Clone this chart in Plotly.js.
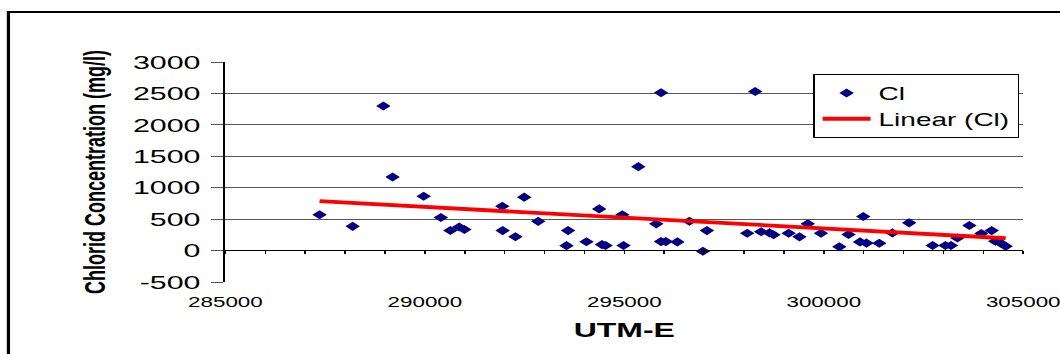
<!DOCTYPE html>
<html>
<head>
<meta charset="utf-8">
<script src="https://cdn.plot.ly/plotly-3.0.1.min.js"></script>
<style>
  html, body { margin: 0; padding: 0; background: #ffffff; overflow: hidden; }
  #chart { width: 663px; height: 354px; transform: scaleX(1.5988); transform-origin: 0 0; }
</style>
</head>
<body>
<div id="chart"></div>
<script>
// Data
const utmE = [287360, 288190, 288960, 289190, 289970, 290400, 290640, 290860, 290990, 291940,
              291950, 292270, 292490, 292840, 293550, 293590, 294050, 294370, 294440, 294530,
              294950, 294980, 295350, 295800, 295920, 295920, 296040, 296330, 296630, 296970,
              297070, 298080, 298280, 298430, 298640, 298740, 299120, 299390, 299600, 299930,
              300390, 300620, 300990, 300910, 301070, 301390, 301720, 302140, 302730, 303050,
              303190, 303350, 303650, 303950, 304210, 304300, 304430, 304560];
const chloride = [570, 385, 2300, 1170, 865, 525, 320, 375, 335, 705,
                  318, 220, 850, 465, 78, 318, 140, 663, 95, 80,
                  570, 80, 1335, 425, 2510, 143, 143, 138, 466, -10,
                  318, 276, 2530, 300, 281, 252, 276, 218, 425, 276,
                  60, 255, 543, 138, 119, 116, 281, 441, 80, 80,
                  80, 200, 398, 271, 318, 150, 122, 69];
// Linear trendline end points
const trendX = [287360, 304560];
const trendY = [785, 196];
const yTicks = [-500, 0, 500, 1000, 1500, 2000, 2500, 3000];
const xTicks = [285000, 290000, 295000, 300000, 305000];

const FONT = 'Arial, "Liberation Sans", sans-serif';

const traces = [
  {
    x: utmE, y: chloride, name: 'Cl', type: 'scatter', mode: 'markers',
    marker: { symbol: 'diamond', size: 7, color: '#000080', line: { width: 0 } },
    xaxis: 'x', yaxis: 'y'
  },
  {
    x: trendX, y: trendY, name: 'Linear (Cl)', type: 'scatter', mode: 'lines',
    line: { color: '#ff0000', width: 3.8 },
    xaxis: 'x2', yaxis: 'y'
  }
];

const layout = {
  width: 663, height: 354,
  margin: { l: 141.4, r: 22.5, t: 62, b: 72, pad: 0 },
  paper_bgcolor: '#ffffff', plot_bgcolor: '#ffffff',
  font: { family: FONT, color: '#000000' },
  showlegend: true,
  legend: {
    x: 0.7365, y: 0.945, xanchor: 'left', yanchor: 'top',
    bgcolor: '#ffffff', bordercolor: '#000000', borderwidth: 1,
    font: { family: FONT, size: 17.5, color: '#000000' },
    tracegroupgap: 0
  },
  xaxis: {
    range: [285000, 305000], tickvals: xTicks, ticktext: xTicks.map(String),
    showgrid: false, zeroline: false, showline: false, ticks: '',
    tickfont: { family: FONT, size: 14, color: '#000000' },
    ticklabelstandoff: 10, ticklabeloverflow: 'allow',
    title: { text: 'UTM-E', font: { family: FONT, size: 20, weight: 'bold', color: '#000000' }, standoff: 14 }
  },
  xaxis2: {
    range: [285000, 305000], overlaying: 'x', anchor: 'free', position: 0.1455, side: 'bottom',
    showline: true, linecolor: '#000000', linewidth: 1.3,
    ticks: 'outside', dtick: 1000, tick0: 285000, ticklen: 3, tickcolor: '#000000', tickwidth: 1,
    showticklabels: false, showgrid: false, zeroline: false
  },
  yaxis: {
    range: [-500, 3000], tickvals: yTicks, ticktext: yTicks.map(String),
    showgrid: true, gridcolor: '#555555', gridwidth: 1,
    zeroline: false, showline: true, linecolor: '#000000', linewidth: 1.3,
    ticks: 'outside', ticklen: 7.5, tickcolor: '#555555', tickwidth: 1,
    tickfont: { family: FONT, size: 19, color: '#000000' },
    ticklabelstandoff: 3,
    title: { text: 'Chlorid Concentration (mg/l)', font: { family: FONT, size: 18, weight: 'bold', color: '#000000' }, standoff: 12 }
  },
  shapes: [
    { type: 'rect', xref: 'paper', yref: 'paper', x0: -0.272, x1: 1.3, y0: -0.6, y1: 1.227,
      line: { color: '#000000', width: 2 }, fillcolor: 'rgba(0,0,0,0)', layer: 'above' }
  ]
};

Plotly.newPlot('chart', traces, layout, { staticPlot: true, displayModeBar: false });
</script>
</body>
</html>
